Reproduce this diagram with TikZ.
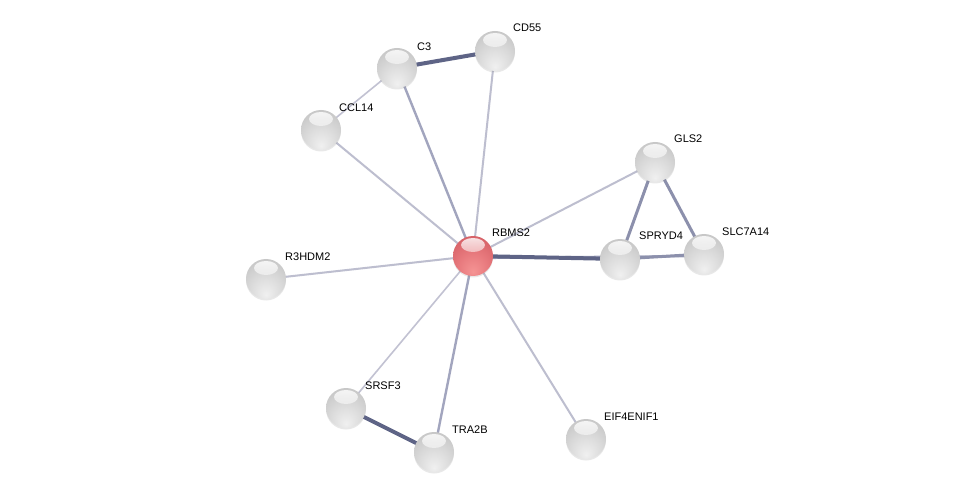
\documentclass[tikz,border=0pt]{standalone}
\usepackage{fontspec}
\setmainfont{Liberation Sans}
\usetikzlibrary{fadings,shadows}
\pgfdeclarelayer{bg}
\pgfdeclarelayer{edges}
\pgfsetlayers{bg,edges,main}
\definecolor{gb1}{HTML}{F0F0F0}
\definecolor{gb2}{HTML}{DCDCDC}
\definecolor{gb3}{HTML}{C4C4C4}
\definecolor{gb4}{HTML}{A4A4A4}
\definecolor{gb5}{HTML}{808080}
\definecolor{rb1}{HTML}{F59494}
\definecolor{rb2}{HTML}{E87A7E}
\definecolor{rb3}{HTML}{D45E64}
\definecolor{rb4}{HTML}{B8484F}
\definecolor{rb5}{HTML}{8E3036}
\definecolor{elight}{HTML}{C2C2D2}
\definecolor{emid}{HTML}{A2A5BE}
\definecolor{emid2}{HTML}{8C90AC}
\definecolor{edark}{HTML}{5E6486}
\pgfdeclareradialshading{grayball}{\pgfpoint{0bp}{-20bp}}{color(0bp)=(gb1); color(18bp)=(gb2); color(38bp)=(gb3); color(47bp)=(gb4); color(50bp)=(gb5); color(72bp)=(gb5)}
\pgfdeclareradialshading{redball}{\pgfpoint{0bp}{-20bp}}{color(0bp)=(rb1); color(18bp)=(rb2); color(38bp)=(rb3); color(47bp)=(rb4); color(50bp)=(rb5); color(72bp)=(rb5)}
\tikzfading[name=hlfade, top color=transparent!15, bottom color=transparent!100]
\tikzset{
  prot/.style={circle, minimum size=40pt, inner sep=0pt, shading=#1,
    drop shadow={shadow xshift=0pt, shadow yshift=-1.5pt, opacity=0.18},
    path picture={\fill[white, path fading=hlfade] ([yshift=11pt]path picture bounding box.center) ellipse (12pt and 7pt);}},
  lab/.style={anchor=west, inner sep=0pt, font=\fontsize{11}{13}\selectfont},
  ethin/.style={draw=elight, line width=1.6pt},
  elt/.style={draw=elight!85!emid, line width=2pt},
  emd/.style={draw=emid, line width=2.4pt},
  emd2/.style={draw=emid2, line width=3pt},
  ethk/.style={draw=edark, line width=4pt},
}
\begin{document}
\begin{tikzpicture}[x=1pt,y=-1pt]
\begin{pgfonlayer}{bg}
\fill[white] (0,0) rectangle (975,497);
\end{pgfonlayer}
\useasboundingbox (0,0) rectangle (975,497);
% nodes
\node[prot=redball]  (RBMS2) at (473,256) {};
\node[prot=grayball] (C3) at (397,68) {};
\node[prot=grayball] (CD55) at (495,51) {};
\node[prot=grayball] (CCL14) at (321,130) {};
\node[prot=grayball] (GLS2) at (655,162) {};
\node[prot=grayball] (SPRYD4) at (620,259) {};
\node[prot=grayball] (SLC7A14) at (704,254) {};
\node[prot=grayball] (R3HDM2) at (266,279) {};
\node[prot=grayball] (SRSF3) at (346,408) {};
\node[prot=grayball] (TRA2B) at (434,452) {};
\node[prot=grayball] (EIF4ENIF1) at (586,439) {};
% labels
\node[lab] (tRBMS2) at (492,233) {RBMS2};
\node[lab] (tC3) at (417,47) {C3};
\node[lab] (tCD55) at (513,28) {CD55};
\node[lab] (tCCL14) at (339,108) {CCL14};
\node[lab] (tGLS2) at (674,139) {GLS2};
\node[lab] (tSPRYD4) at (639,236) {SPRYD4};
\node[lab] (tSLC7A14) at (722,232) {SLC7A14};
\node[lab] (tR3HDM2) at (285,257) {R3HDM2};
\node[lab] (tSRSF3) at (365,386) {SRSF3};
\node[lab] (tTRA2B) at (452,430) {TRA2B};
\node[lab] (tEIF4ENIF1) at (604,417) {EIF4ENIF1};
% edges
\begin{pgfonlayer}{edges}
\draw[ethk] (C3.center) -- (CD55.center);
\draw[ethin] (C3.center) -- (CCL14.center);
\draw[elt] (CD55.center) -- (RBMS2.center);
\draw[emd] (C3.center) -- (RBMS2.center);
\draw[elt] (CCL14.center) -- (RBMS2.center);
\draw[elt] (RBMS2.center) -- (GLS2.center);
\draw[emd] ([yshift=-2pt]RBMS2.center) -- ([yshift=-2pt]SLC7A14.center);
\draw[ethk] (RBMS2.center) -- (SPRYD4.center);
\draw[emd2] (GLS2.center) -- (SPRYD4.center);
\draw[emd2] (GLS2.center) -- (SLC7A14.center);
\draw[emd2] (SPRYD4.center) -- (SLC7A14.center);
\draw[elt] (RBMS2.center) -- (R3HDM2.center);
\draw[ethin] (RBMS2.center) -- (SRSF3.center);
\draw[emd] (RBMS2.center) -- (TRA2B.center);
\draw[elt] (RBMS2.center) -- (EIF4ENIF1.center);
\draw[ethk] (SRSF3.center) -- (TRA2B.center);
\end{pgfonlayer}
\end{tikzpicture}
\end{document}
